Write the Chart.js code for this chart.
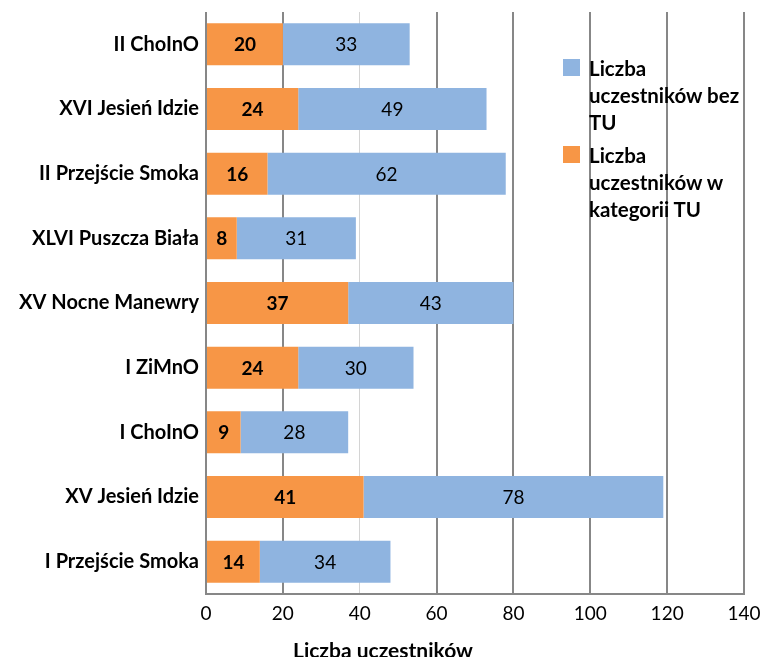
<!DOCTYPE html>
<html>
<head>
<meta charset="utf-8">
<script src="https://cdn.jsdelivr.net/npm/chart.js@4.4.0/dist/chart.umd.min.js"></script>
<style>
    body { margin: 0; background: #fff; font-family: Lato, sans-serif; }
    #wrap { position: relative; width: 762px; height: 657px; overflow: hidden; }
    #legend { position: absolute; left: 563px; top: 55px; font-weight: bold; font-size: 20.5px; line-height: 27px; color: #000; white-space: nowrap; }
    .item { position: relative; padding-left: 26px; margin-bottom: 6px; }
    .box { position: absolute; left: 0; top: 4px; width: 17px; height: 17px; }
    #xtitle { position: absolute; left: 293px; top: 637px; font-weight: bold; font-size: 21px; color: #000; white-space: nowrap; }
</style>
</head>
<body>
<div id="wrap">
    <canvas id="chart"></canvas>
    <div id="legend">
        <div class="item"><span class="box" style="background:#8FB4E0"></span>Liczba<br>uczestników bez<br>TU</div>
        <div class="item"><span class="box" style="background:#F79646"></span>Liczba<br>uczestników w<br>kategorii TU</div>
    </div>
    <div id="xtitle">Liczba uczestników</div>
</div>
<script>
    const categories = [
        'II ChoInO',
        'XVI Jesień Idzie',
        'II Przejście Smoka',
        'XLVI Puszcza Biała',
        'XV Nocne Manewry',
        'I ZiMnO',
        'I ChoInO',
        'XV Jesień Idzie',
        'I Przejście Smoka',
    ];

    const withTU = [20, 24, 16, 8, 37, 24, 9, 41, 14];
    const withoutTU = [33, 49, 62, 31, 43, 30, 28, 78, 34];

    const xTicks = [0, 20, 40, 60, 80, 100, 120, 140];

    // value labels in the middle of each bar segment
    const barLabels = {
        id: 'barLabels',
        afterDatasetsDraw(chart) {
            const ctx = chart.ctx;
            ctx.save();
            ctx.textAlign = 'center';
            ctx.textBaseline = 'middle';
            ctx.fillStyle = '#000';
            chart.data.datasets.forEach((ds, i) => {
                const meta = chart.getDatasetMeta(i);
                ctx.font = (i === 0 ? 'bold ' : '') + '19px Lato';
                meta.data.forEach((bar, j) => {
                    const p = bar.getProps(['x', 'y', 'base']);
                    ctx.fillText(ds.data[j], (p.x + p.base) / 2, p.y + 1);
                });
            });
            ctx.restore();
        }
    };

    const data = {
        labels: categories,
        datasets: [{
            label: 'Liczba uczestników w kategorii TU',
            data: withTU,
            backgroundColor: '#F79646',
        }, {
            label: 'Liczba uczestników bez TU',
            data: withoutTU,
            backgroundColor: '#8FB4E0',
        }]
    };

    const config = {
        type: 'bar',
        data: data,
        options: {
            indexAxis: 'y',
            responsive: true,
            maintainAspectRatio: false,
            animation: false,
            layout: {
                padding: { top: 12, right: 18, left: 0, bottom: 0 }
            },
            datasets: {
                bar: { categoryPercentage: 0.65, barPercentage: 1 }
            },
            scales: {
                x: {
                    stacked: true,
                    min: 0,
                    max: 140,
                    afterBuildTicks: (scale) => {
                        scale.ticks = xTicks.map(v => ({ value: v }));
                    },
                    afterFit: (scale) => {
                        scale.height = 63;
                        scale.paddingLeft = 0;
                        scale.paddingRight = 0;
                    },
                    grid: {
                        color: (c) => c.tick && c.tick.value === 40 ? '#d4d4d4' : '#878787',
                        lineWidth: (c) => c.tick && c.tick.value === 40 ? 1 : 2,
                        drawTicks: false,
                    },
                    border: { display: true, color: '#878787', width: 2 },
                    ticks: {
                        padding: 8,
                        color: '#000',
                        font: { family: 'Lato', size: 19 }
                    }
                },
                y: {
                    stacked: true,
                    afterFit: (scale) => {
                        scale.width = 206;
                        scale.paddingTop = 0;
                        scale.paddingBottom = 0;
                    },
                    grid: { display: false, drawTicks: false },
                    border: { display: false },
                    ticks: {
                        padding: 7,
                        color: '#000',
                        font: { family: 'Lato', size: 20, weight: 'bold' }
                    }
                }
            },
            plugins: {
                legend: { display: false },
                tooltip: { enabled: false }
            }
        },
        plugins: [barLabels]
    };

    const myChart = new Chart(document.getElementById('chart'), config);
</script>
</body>
</html>
